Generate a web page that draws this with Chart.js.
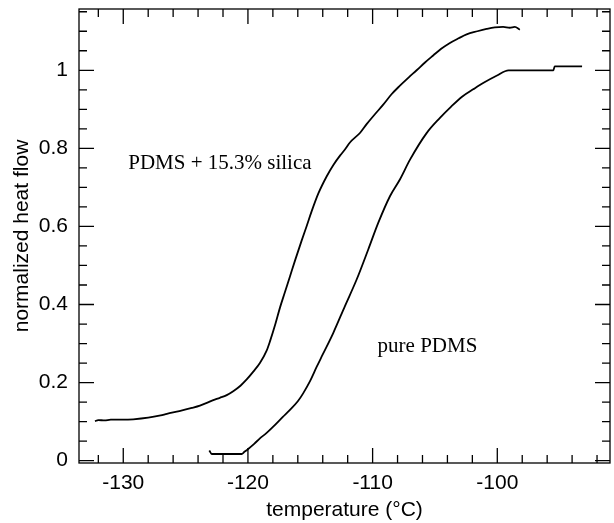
<!DOCTYPE html>
<html>
<head>
<meta charset="utf-8">
<script src="https://cdn.jsdelivr.net/npm/chart.js@4.4.1/dist/chart.umd.min.js"></script>
<style>
  html, body { margin: 0; padding: 0; background: #fff; }
  #wrap { width: 614px; height: 523px; }
</style>
</head>
<body>
<div id="wrap"><canvas id="dsc-chart" width="614" height="523"></canvas></div>
<script>
// --- data ---
const silicaTemp = [-132.27, -132.0, -131.5, -131.0, -130.0, -129.2, -128.0, -127.0, -126.5, -125.5,
  -124.5, -123.85, -122.78, -122.25, -121.7, -121.18, -120.6, -120.1, -119.57, -119.04,
  -118.5, -118.24, -117.8, -117.43, -117.03, -116.63, -116.2, -115.7, -115.3, -114.9,
  -114.36, -113.69, -113.16, -112.6, -112.22, -111.82, -111.0, -110.48, -109.8, -109.15,
  -108.5, -107.83, -107.1, -106.47, -105.8, -105.14, -104.5, -103.8, -103.1, -102.46,
  -101.6, -100.86, -100.2, -99.53, -99.0, -98.6, -98.19];
const silicaFlow = [0.101, 0.104, 0.103, 0.105, 0.105, 0.106, 0.110, 0.116, 0.120, 0.127,
  0.135, 0.141, 0.155, 0.161, 0.168, 0.178, 0.192, 0.208, 0.228, 0.250,
  0.282, 0.305, 0.350, 0.392, 0.432, 0.472, 0.515, 0.563, 0.600, 0.638,
  0.684, 0.728, 0.757, 0.782, 0.797, 0.815, 0.840, 0.862, 0.888, 0.912,
  0.938, 0.960, 0.982, 1.000, 1.020, 1.038, 1.055, 1.070, 1.082, 1.092,
  1.100, 1.106, 1.110, 1.111, 1.109, 1.111, 1.104];

const pureTemp = [-123.1, -122.9, -120.5, -120.3, -119.98, -119.5, -119.04, -118.5, -117.97, -117.2,
  -116.63, -116.0, -115.56, -115.0, -114.49, -114.0, -113.16, -112.22, -111.28, -110.35,
  -109.55, -108.6, -107.8, -107.0, -105.67, -104.6, -103.7, -102.8, -101.9, -101.1,
  -100.06, -99.1, -95.5, -95.4, -93.2];
const pureFlow = [0.026, 0.017, 0.017, 0.022, 0.030, 0.043, 0.057, 0.071, 0.087, 0.112,
  0.130, 0.152, 0.173, 0.205, 0.240, 0.272, 0.327, 0.396, 0.464, 0.541,
  0.609, 0.678, 0.721, 0.771, 0.839, 0.878, 0.907, 0.933, 0.952, 0.968,
  0.986, 1.000, 1.000, 1.010, 1.010];

const xTickValues = [-130, -120, -110, -100];
const yTickValues = [0, 0.2, 0.4, 0.6, 0.8, 1];
const yTickLabels = ['0', '0.2', '0.4', '0.6', '0.8', '1'];

const seriesLabels = ['PDMS + 15.3% silica', 'pure PDMS'];

const toPoints = (xs, ys) => xs.map((x, i) => ({ x: x, y: ys[i] }));

const SANS = '"Liberation Sans", Arial, Helvetica, sans-serif';
const SERIF = '"Liberation Serif", "Times New Roman", serif';

// inward ticks on all four sides, frame, and the two curve labels
const framePlugin = {
  id: 'frame',
  afterDraw(chart) {
    const ctx = chart.ctx;
    const xs = chart.scales.x, ys = chart.scales.y;
    const a = chart.chartArea;
    ctx.save();
    ctx.strokeStyle = '#000';
    ctx.lineWidth = 1.3;
    ctx.strokeRect(a.left, a.top, a.right - a.left, a.bottom - a.top);

    ctx.beginPath();
    for (let v = -132; v <= -92; v += 2) {
      const px = xs.getPixelForValue(v);
      const len = xTickValues.includes(v) ? 15 : 8;
      ctx.moveTo(px, a.bottom); ctx.lineTo(px, a.bottom - len);
      ctx.moveTo(px, a.top); ctx.lineTo(px, a.top + len);
    }
    for (let k = 0; k <= 23; k++) {
      const v = k * 0.05;
      const py = ys.getPixelForValue(v);
      const len = (k % 4 === 0) ? 15 : 8;
      ctx.moveTo(a.left, py); ctx.lineTo(a.left + len, py);
      ctx.moveTo(a.right, py); ctx.lineTo(a.right - len, py);
    }
    ctx.stroke();

    ctx.fillStyle = '#000';
    ctx.font = '21px ' + SERIF;
    ctx.textAlign = 'left';
    ctx.textBaseline = 'middle';
    ctx.fillText(seriesLabels[0], xs.getPixelForValue(-129.6), ys.getPixelForValue(0.76));
    ctx.fillText(seriesLabels[1], xs.getPixelForValue(-109.6), ys.getPixelForValue(0.292));
    ctx.restore();
  }
};

new Chart(document.getElementById('dsc-chart'), {
  type: 'line',
  data: {
    datasets: [
      {
        label: seriesLabels[0],
        data: toPoints(silicaTemp, silicaFlow),
        borderColor: '#000',
        borderWidth: 1.8,
        pointRadius: 0,
        cubicInterpolationMode: 'monotone',
        fill: false
      },
      {
        label: seriesLabels[1],
        data: toPoints(pureTemp, pureFlow),
        borderColor: '#000',
        borderWidth: 1.8,
        pointRadius: 0,
        cubicInterpolationMode: 'monotone',
        fill: false
      }
    ]
  },
  options: {
    responsive: false,
    animation: false,
    devicePixelRatio: 1,
    layout: { padding: { top: 9, right: 4, left: 0, bottom: 0 } },
    plugins: {
      legend: { display: false },
      tooltip: { enabled: false }
    },
    scales: {
      x: {
        type: 'linear',
        min: -133.55,
        max: -90.96,
        grid: { display: false, drawTicks: false },
        border: { display: false },
        afterBuildTicks: s => { s.ticks = xTickValues.map(v => ({ value: v })); },
        afterFit: s => { s.height = 60; s.paddingLeft = 0; s.paddingRight = 0; },
        ticks: {
          color: '#000',
          font: { family: SANS, size: 21 },
          padding: 8,
          maxRotation: 0,
          callback: v => String(v)
        },
        title: {
          display: true,
          text: 'temperature (°C)',
          color: '#000',
          font: { family: SANS, size: 21 },
          padding: { top: 3, bottom: 0 }
        }
      },
      y: {
        type: 'linear',
        min: -0.006,
        max: 1.157,
        grid: { display: false, drawTicks: false },
        border: { display: false },
        afterBuildTicks: s => { s.ticks = yTickValues.map(v => ({ value: v })); },
        afterFit: s => { s.width = 79; s.paddingTop = 0; s.paddingBottom = 0; },
        ticks: {
          color: '#000',
          font: { family: SANS, size: 21 },
          padding: 11,
          callback: (v, i) => yTickLabels[i]
        },
        title: {
          display: true,
          text: 'normalized heat flow',
          color: '#000',
          font: { family: SANS, size: 21 },
          padding: { top: 10, bottom: 0 }
        }
      }
    }
  },
  plugins: [framePlugin]
});
</script>
</body>
</html>
